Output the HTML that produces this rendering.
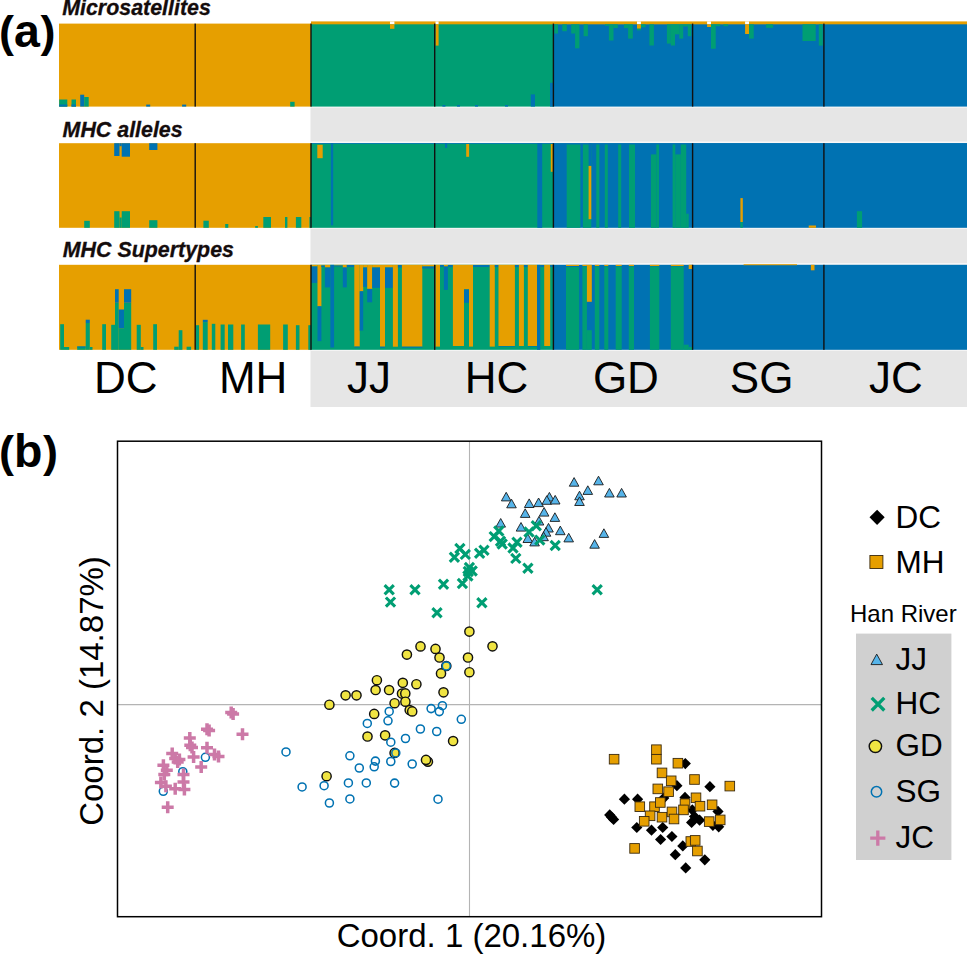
<!DOCTYPE html>
<html><head><meta charset="utf-8"><title>Figure</title>
<style>html,body{margin:0;padding:0;background:#fff;}svg{display:block;}</style></head>
<body><svg width="967" height="954" viewBox="0 0 967 954" shape-rendering="auto">
<rect width="967" height="954" fill="#fff"/>
<rect x="310.5" y="107.5" width="656.5" height="299.5" fill="#E6E6E6"/>
<rect x="310.5" y="141.5" width="656.5" height="1.7" fill="#F8F8F8"/>
<rect x="310.5" y="263.1" width="656.5" height="1.7" fill="#F8F8F8"/>
<rect x="310.5" y="227.8" width="656.5" height="1.2" fill="#F4F4F4"/>
<rect x="310.5" y="349.8" width="656.5" height="1.2" fill="#F4F4F4"/>
<rect x="59.0" y="23.6" width="252.0" height="83.0" fill="#E69F00"/>
<rect x="311.0" y="23.6" width="242.4" height="83.0" fill="#009E73"/>
<rect x="553.4" y="23.6" width="413.6" height="83.0" fill="#0072B2"/>
<rect x="311.0" y="21.4" width="656.0" height="2.9" fill="#E69F00"/>
<rect x="59.2" y="99.5" width="8.1" height="7.1" fill="#009E73"/>
<rect x="59.2" y="104.5" width="8.1" height="2.1" fill="#0072B2"/>
<rect x="71.5" y="99.5" width="4.5" height="7.1" fill="#009E73"/>
<rect x="71.5" y="104.5" width="4.5" height="2.1" fill="#0072B2"/>
<rect x="80.2" y="94.7" width="4.0" height="11.9" fill="#0072B2"/>
<rect x="84.2" y="97.0" width="4.5" height="9.6" fill="#009E73"/>
<rect x="146.2" y="104.6" width="4.0" height="2.0" fill="#0072B2"/>
<rect x="182.1" y="104.6" width="4.1" height="2.0" fill="#0072B2"/>
<rect x="290.2" y="101.8" width="4.4" height="4.8" fill="#009E73"/>
<rect x="390.0" y="21.4" width="4.4" height="2.9" fill="#ffffff"/>
<rect x="390.0" y="24.3" width="4.4" height="4.5" fill="#E69F00"/>
<rect x="435.5" y="21.4" width="3.1" height="2.9" fill="#ffffff"/>
<rect x="435.5" y="24.3" width="3.1" height="21.3" fill="#E69F00"/>
<rect x="530.8" y="94.4" width="4.2" height="12.2" fill="#0072B2"/>
<rect x="550.0" y="82.8" width="3.4" height="23.8" fill="#0072B2"/>
<rect x="442.4" y="105.0" width="3.0" height="1.6" fill="#0072B2"/>
<rect x="457.0" y="105.0" width="3.0" height="1.6" fill="#0072B2"/>
<rect x="475.0" y="105.0" width="3.0" height="1.6" fill="#0072B2"/>
<rect x="505.0" y="105.0" width="3.0" height="1.6" fill="#0072B2"/>
<rect x="554.2" y="24.3" width="3.8" height="9.2" fill="#009E73"/>
<rect x="562.3" y="24.3" width="4.5" height="6.9" fill="#009E73"/>
<rect x="571.2" y="24.3" width="3.9" height="9.2" fill="#009E73"/>
<rect x="575.1" y="24.3" width="4.3" height="24.0" fill="#009E73"/>
<rect x="583.6" y="24.3" width="4.3" height="11.9" fill="#009E73"/>
<rect x="605.0" y="24.3" width="3.9" height="1.5" fill="#009E73"/>
<rect x="608.9" y="24.3" width="4.6" height="16.2" fill="#009E73"/>
<rect x="613.5" y="24.3" width="4.3" height="3.7" fill="#009E73"/>
<rect x="624.0" y="24.3" width="4.1" height="3.8" fill="#009E73"/>
<rect x="628.1" y="24.3" width="4.7" height="14.3" fill="#009E73"/>
<rect x="637.0" y="24.3" width="3.9" height="6.1" fill="#009E73"/>
<rect x="640.9" y="24.3" width="4.7" height="3.0" fill="#009E73"/>
<rect x="649.4" y="24.3" width="4.5" height="21.2" fill="#009E73"/>
<rect x="666.9" y="24.3" width="3.9" height="19.3" fill="#009E73"/>
<rect x="670.8" y="24.3" width="4.2" height="21.2" fill="#009E73"/>
<rect x="675.0" y="24.3" width="4.3" height="10.0" fill="#009E73"/>
<rect x="679.3" y="24.3" width="3.9" height="14.3" fill="#009E73"/>
<rect x="683.2" y="24.3" width="4.6" height="2.2" fill="#009E73"/>
<rect x="687.8" y="24.3" width="3.5" height="11.9" fill="#009E73"/>
<rect x="637.0" y="21.4" width="3.9" height="2.9" fill="#ffffff"/>
<rect x="637.0" y="24.3" width="3.9" height="4.2" fill="#E69F00"/>
<rect x="711.0" y="24.3" width="4.7" height="24.4" fill="#009E73"/>
<rect x="715.7" y="24.3" width="4.6" height="1.9" fill="#009E73"/>
<rect x="723.4" y="24.3" width="4.7" height="1.9" fill="#009E73"/>
<rect x="749.0" y="24.3" width="4.7" height="14.3" fill="#009E73"/>
<rect x="766.1" y="24.3" width="7.0" height="3.5" fill="#009E73"/>
<rect x="802.5" y="24.3" width="13.2" height="16.7" fill="#009E73"/>
<rect x="818.8" y="24.3" width="3.9" height="21.3" fill="#009E73"/>
<rect x="707.1" y="21.4" width="3.9" height="2.9" fill="#ffffff"/>
<rect x="707.1" y="24.3" width="3.9" height="2.7" fill="#E69F00"/>
<rect x="745.1" y="21.4" width="3.9" height="2.9" fill="#ffffff"/>
<rect x="745.1" y="24.3" width="3.9" height="9.7" fill="#E69F00"/>
<rect x="59.0" y="143.2" width="252.0" height="84.6" fill="#E69F00"/>
<rect x="311.0" y="143.2" width="242.4" height="84.6" fill="#009E73"/>
<rect x="553.4" y="143.2" width="413.6" height="84.6" fill="#0072B2"/>
<rect x="114.2" y="143.2" width="5.3" height="12.8" fill="#0072B2"/>
<rect x="119.5" y="143.2" width="2.2" height="3.0" fill="#0072B2"/>
<rect x="121.7" y="143.2" width="8.3" height="13.5" fill="#0072B2"/>
<rect x="149.2" y="143.2" width="8.2" height="6.8" fill="#0072B2"/>
<rect x="84.2" y="220.8" width="5.6" height="7.0" fill="#009E73"/>
<rect x="114.2" y="211.2" width="5.3" height="16.6" fill="#009E73"/>
<rect x="119.5" y="217.5" width="2.2" height="10.3" fill="#009E73"/>
<rect x="121.7" y="211.2" width="8.3" height="16.6" fill="#009E73"/>
<rect x="149.2" y="220.2" width="8.2" height="7.6" fill="#009E73"/>
<rect x="203.4" y="220.7" width="5.4" height="7.1" fill="#009E73"/>
<rect x="225.2" y="224.0" width="3.1" height="3.8" fill="#009E73"/>
<rect x="255.2" y="226.0" width="2.7" height="1.8" fill="#009E73"/>
<rect x="263.3" y="217.0" width="7.7" height="10.8" fill="#009E73"/>
<rect x="285.0" y="217.0" width="2.4" height="10.8" fill="#009E73"/>
<rect x="295.9" y="217.0" width="5.4" height="10.8" fill="#009E73"/>
<rect x="309.4" y="217.0" width="1.6" height="10.8" fill="#009E73"/>
<rect x="311.0" y="143.2" width="656.0" height="0.8" fill="#0072B2"/>
<rect x="317.3" y="144.8" width="5.4" height="13.4" fill="#E69F00"/>
<rect x="330.9" y="143.2" width="2.3" height="82.1" fill="#0072B2"/>
<rect x="445.0" y="143.2" width="2.2" height="4.7" fill="#0072B2"/>
<rect x="466.2" y="144.0" width="2.9" height="12.8" fill="#E69F00"/>
<rect x="537.3" y="143.2" width="4.9" height="84.6" fill="#0072B2"/>
<rect x="550.8" y="144.0" width="2.0" height="27.8" fill="#E69F00"/>
<rect x="566.7" y="144.5" width="13.7" height="83.3" fill="#009E73"/>
<rect x="582.9" y="144.5" width="8.4" height="83.3" fill="#009E73"/>
<rect x="596.3" y="144.5" width="3.0" height="83.3" fill="#009E73"/>
<rect x="604.8" y="144.5" width="3.0" height="83.3" fill="#009E73"/>
<rect x="618.2" y="144.5" width="3.0" height="83.3" fill="#009E73"/>
<rect x="629.0" y="144.5" width="6.0" height="83.3" fill="#009E73"/>
<rect x="650.9" y="154.4" width="5.5" height="73.4" fill="#009E73"/>
<rect x="656.4" y="144.5" width="2.6" height="83.3" fill="#009E73"/>
<rect x="672.6" y="144.5" width="2.7" height="83.3" fill="#009E73"/>
<rect x="675.3" y="154.4" width="5.5" height="73.4" fill="#009E73"/>
<rect x="680.8" y="144.5" width="5.4" height="83.3" fill="#009E73"/>
<rect x="686.2" y="213.7" width="2.5" height="14.1" fill="#009E73"/>
<rect x="588.6" y="143.2" width="2.7" height="22.7" fill="#0072B2"/>
<rect x="588.6" y="165.9" width="2.7" height="53.3" fill="#E69F00"/>
<rect x="740.4" y="198.1" width="2.4" height="23.9" fill="#E69F00"/>
<rect x="740.4" y="222.0" width="2.4" height="5.8" fill="#009E73"/>
<rect x="808.7" y="225.5" width="7.3" height="2.3" fill="#E69F00"/>
<rect x="856.9" y="211.2" width="5.2" height="16.6" fill="#009E73"/>
<rect x="59.0" y="264.8" width="252.0" height="85.0" fill="#E69F00"/>
<rect x="311.0" y="264.8" width="242.4" height="85.0" fill="#009E73"/>
<rect x="553.4" y="264.8" width="413.6" height="85.0" fill="#0072B2"/>
<rect x="60.2" y="324.2" width="3.8" height="25.6" fill="#009E73"/>
<rect x="64.0" y="347.0" width="5.2" height="2.8" fill="#009E73"/>
<rect x="77.2" y="346.5" width="8.5" height="3.3" fill="#009E73"/>
<rect x="85.7" y="323.0" width="4.1" height="26.8" fill="#009E73"/>
<rect x="89.8" y="347.0" width="2.7" height="2.8" fill="#009E73"/>
<rect x="102.2" y="324.2" width="3.8" height="25.6" fill="#009E73"/>
<rect x="111.2" y="324.8" width="3.8" height="25.0" fill="#009E73"/>
<rect x="115.0" y="302.7" width="3.7" height="47.1" fill="#009E73"/>
<rect x="118.7" y="328.2" width="5.3" height="21.6" fill="#009E73"/>
<rect x="124.0" y="302.7" width="7.2" height="47.1" fill="#009E73"/>
<rect x="136.7" y="324.8" width="4.1" height="25.0" fill="#009E73"/>
<rect x="140.8" y="347.0" width="2.7" height="2.8" fill="#009E73"/>
<rect x="153.2" y="324.2" width="3.8" height="25.6" fill="#009E73"/>
<rect x="174.2" y="346.7" width="4.5" height="3.1" fill="#009E73"/>
<rect x="178.7" y="330.2" width="3.7" height="19.6" fill="#009E73"/>
<rect x="186.6" y="346.7" width="4.5" height="3.1" fill="#009E73"/>
<rect x="85.7" y="319.7" width="4.1" height="3.3" fill="#0072B2"/>
<rect x="77.2" y="346.5" width="8.5" height="1.0" fill="#0072B2"/>
<rect x="115.0" y="289.2" width="3.7" height="13.5" fill="#0072B2"/>
<rect x="124.0" y="289.2" width="7.2" height="13.5" fill="#0072B2"/>
<rect x="118.7" y="309.5" width="5.3" height="18.7" fill="#0072B2"/>
<rect x="196.0" y="325.2" width="3.1" height="24.6" fill="#009E73"/>
<rect x="202.8" y="322.1" width="4.9" height="27.7" fill="#009E73"/>
<rect x="211.8" y="323.8" width="3.5" height="26.0" fill="#009E73"/>
<rect x="220.6" y="324.5" width="4.1" height="25.3" fill="#009E73"/>
<rect x="228.0" y="324.5" width="5.3" height="25.3" fill="#009E73"/>
<rect x="241.1" y="324.5" width="3.7" height="25.3" fill="#009E73"/>
<rect x="257.9" y="324.5" width="12.3" height="25.3" fill="#009E73"/>
<rect x="283.1" y="324.5" width="4.7" height="25.3" fill="#009E73"/>
<rect x="295.9" y="325.2" width="3.6" height="24.6" fill="#009E73"/>
<rect x="308.3" y="325.2" width="2.7" height="24.6" fill="#009E73"/>
<rect x="202.8" y="319.8" width="4.9" height="2.3" fill="#0072B2"/>
<rect x="311.2" y="264.8" width="6.3" height="1.7" fill="#E69F00"/>
<rect x="311.2" y="266.5" width="6.3" height="16.4" fill="#0072B2"/>
<rect x="317.5" y="264.8" width="3.9" height="41.5" fill="#E69F00"/>
<rect x="317.5" y="306.3" width="3.9" height="34.8" fill="#0072B2"/>
<rect x="321.4" y="264.8" width="3.5" height="0.7" fill="#E69F00"/>
<rect x="321.4" y="265.5" width="3.5" height="1.5" fill="#0072B2"/>
<rect x="324.9" y="264.8" width="5.5" height="2.7" fill="#E69F00"/>
<rect x="324.9" y="267.5" width="5.5" height="19.9" fill="#0072B2"/>
<rect x="330.4" y="264.8" width="3.7" height="82.7" fill="#0072B2"/>
<rect x="334.1" y="264.8" width="8.7" height="0.7" fill="#E69F00"/>
<rect x="334.1" y="265.5" width="8.7" height="1.0" fill="#0072B2"/>
<rect x="342.8" y="264.8" width="4.0" height="2.7" fill="#E69F00"/>
<rect x="342.8" y="267.5" width="4.0" height="19.9" fill="#0072B2"/>
<rect x="346.8" y="264.8" width="7.5" height="0.2" fill="#E69F00"/>
<rect x="346.8" y="265.0" width="7.5" height="2.0" fill="#0072B2"/>
<rect x="354.3" y="264.8" width="5.4" height="81.8" fill="#E69F00"/>
<rect x="354.3" y="346.6" width="5.4" height="0.9" fill="#0072B2"/>
<rect x="359.7" y="264.8" width="3.5" height="26.5" fill="#E69F00"/>
<rect x="359.7" y="291.3" width="3.5" height="39.3" fill="#0072B2"/>
<rect x="363.2" y="264.8" width="4.0" height="2.7" fill="#E69F00"/>
<rect x="363.2" y="267.5" width="4.0" height="19.4" fill="#0072B2"/>
<rect x="367.2" y="264.8" width="5.0" height="24.1" fill="#E69F00"/>
<rect x="367.2" y="288.9" width="5.0" height="13.4" fill="#0072B2"/>
<rect x="372.2" y="264.8" width="7.8" height="2.7" fill="#E69F00"/>
<rect x="372.2" y="267.5" width="7.8" height="20.4" fill="#0072B2"/>
<rect x="380.0" y="264.8" width="5.0" height="81.9" fill="#E69F00"/>
<rect x="380.0" y="346.7" width="5.0" height="1.0" fill="#0072B2"/>
<rect x="385.0" y="264.8" width="7.9" height="2.7" fill="#E69F00"/>
<rect x="385.0" y="267.5" width="7.9" height="20.4" fill="#0072B2"/>
<rect x="392.9" y="264.8" width="5.0" height="81.9" fill="#E69F00"/>
<rect x="397.9" y="264.8" width="4.0" height="0.2" fill="#E69F00"/>
<rect x="397.9" y="265.0" width="4.0" height="2.5" fill="#0072B2"/>
<rect x="401.9" y="264.8" width="20.4" height="81.9" fill="#E69F00"/>
<rect x="401.9" y="346.7" width="20.4" height="1.0" fill="#0072B2"/>
<rect x="422.3" y="264.8" width="12.2" height="1.7" fill="#E69F00"/>
<rect x="422.3" y="266.5" width="12.2" height="2.0" fill="#0072B2"/>
<rect x="435.5" y="264.8" width="4.5" height="81.8" fill="#E69F00"/>
<rect x="440.0" y="264.8" width="3.9" height="0.2" fill="#E69F00"/>
<rect x="440.0" y="265.0" width="3.9" height="2.0" fill="#0072B2"/>
<rect x="443.9" y="264.8" width="4.0" height="1.7" fill="#E69F00"/>
<rect x="443.9" y="266.5" width="4.0" height="23.4" fill="#0072B2"/>
<rect x="447.9" y="264.8" width="5.0" height="0.2" fill="#E69F00"/>
<rect x="447.9" y="265.0" width="5.0" height="2.0" fill="#0072B2"/>
<rect x="452.9" y="264.8" width="11.1" height="81.2" fill="#E69F00"/>
<rect x="464.0" y="264.8" width="5.0" height="24.6" fill="#E69F00"/>
<rect x="464.0" y="289.4" width="5.0" height="13.4" fill="#0072B2"/>
<rect x="469.0" y="264.8" width="4.0" height="81.8" fill="#E69F00"/>
<rect x="473.0" y="264.8" width="16.7" height="0.2" fill="#E69F00"/>
<rect x="473.0" y="265.0" width="16.7" height="2.0" fill="#0072B2"/>
<rect x="489.7" y="264.8" width="5.1" height="81.8" fill="#E69F00"/>
<rect x="494.8" y="264.8" width="3.7" height="0.2" fill="#E69F00"/>
<rect x="494.8" y="265.0" width="3.7" height="2.0" fill="#0072B2"/>
<rect x="498.5" y="264.8" width="16.4" height="81.2" fill="#E69F00"/>
<rect x="498.5" y="346.0" width="16.4" height="0.6" fill="#0072B2"/>
<rect x="514.9" y="264.8" width="4.0" height="0.2" fill="#E69F00"/>
<rect x="514.9" y="265.0" width="4.0" height="2.0" fill="#0072B2"/>
<rect x="518.9" y="264.8" width="5.0" height="81.2" fill="#E69F00"/>
<rect x="523.9" y="264.8" width="3.9" height="0.2" fill="#E69F00"/>
<rect x="523.9" y="265.0" width="3.9" height="2.0" fill="#0072B2"/>
<rect x="527.8" y="264.8" width="9.2" height="81.2" fill="#E69F00"/>
<rect x="527.8" y="346.0" width="9.2" height="0.6" fill="#0072B2"/>
<rect x="537.0" y="264.8" width="3.3" height="85.0" fill="#0072B2"/>
<rect x="540.3" y="264.8" width="3.9" height="0.2" fill="#E69F00"/>
<rect x="540.3" y="265.0" width="3.9" height="2.0" fill="#0072B2"/>
<rect x="544.2" y="264.8" width="6.0" height="81.2" fill="#E69F00"/>
<rect x="550.2" y="264.8" width="3.2" height="0.2" fill="#E69F00"/>
<rect x="550.2" y="265.0" width="3.2" height="2.0" fill="#0072B2"/>
<rect x="566.0" y="267.0" width="13.1" height="82.8" fill="#009E73"/>
<rect x="582.4" y="266.5" width="4.5" height="83.3" fill="#009E73"/>
<rect x="594.8" y="266.5" width="4.5" height="83.3" fill="#009E73"/>
<rect x="604.3" y="266.5" width="4.0" height="83.3" fill="#009E73"/>
<rect x="615.7" y="266.5" width="6.0" height="83.3" fill="#009E73"/>
<rect x="628.8" y="266.5" width="5.2" height="83.3" fill="#009E73"/>
<rect x="649.9" y="266.5" width="9.4" height="83.3" fill="#009E73"/>
<rect x="670.8" y="266.5" width="12.9" height="83.3" fill="#009E73"/>
<rect x="566.0" y="264.8" width="13.1" height="1.2" fill="#E69F00"/>
<rect x="582.4" y="264.8" width="4.5" height="1.2" fill="#E69F00"/>
<rect x="594.8" y="264.8" width="4.5" height="1.2" fill="#E69F00"/>
<rect x="604.3" y="264.8" width="4.0" height="1.2" fill="#E69F00"/>
<rect x="615.7" y="264.8" width="6.0" height="1.2" fill="#E69F00"/>
<rect x="628.8" y="264.8" width="5.2" height="1.2" fill="#E69F00"/>
<rect x="649.9" y="264.8" width="9.4" height="1.2" fill="#E69F00"/>
<rect x="670.8" y="264.8" width="12.9" height="1.2" fill="#E69F00"/>
<rect x="586.9" y="264.8" width="4.9" height="37.0" fill="#E69F00"/>
<rect x="586.9" y="330.2" width="4.9" height="19.6" fill="#009E73"/>
<rect x="683.7" y="344.7" width="5.0" height="5.1" fill="#009E73"/>
<rect x="688.7" y="264.8" width="4.0" height="4.2" fill="#E69F00"/>
<rect x="688.7" y="347.0" width="4.0" height="2.8" fill="#009E73"/>
<rect x="810.9" y="264.8" width="3.6" height="5.5" fill="#E69F00"/>
<rect x="743.6" y="264.2" width="53.4" height="1.0" fill="#E69F00"/>
<rect x="194.5" y="23.6" width="1.4" height="83.0" fill="#111"/>
<rect x="194.5" y="143.2" width="1.4" height="84.6" fill="#111"/>
<rect x="194.5" y="264.8" width="1.4" height="85.0" fill="#111"/>
<rect x="310.3" y="23.6" width="1.4" height="83.0" fill="#111"/>
<rect x="310.3" y="143.2" width="1.4" height="84.6" fill="#111"/>
<rect x="310.3" y="264.8" width="1.4" height="85.0" fill="#111"/>
<rect x="434.0" y="23.6" width="1.4" height="83.0" fill="#111"/>
<rect x="434.0" y="143.2" width="1.4" height="84.6" fill="#111"/>
<rect x="434.0" y="264.8" width="1.4" height="85.0" fill="#111"/>
<rect x="552.7" y="23.6" width="1.4" height="83.0" fill="#111"/>
<rect x="552.7" y="143.2" width="1.4" height="84.6" fill="#111"/>
<rect x="552.7" y="264.8" width="1.4" height="85.0" fill="#111"/>
<rect x="691.9" y="23.6" width="1.4" height="83.0" fill="#111"/>
<rect x="691.9" y="143.2" width="1.4" height="84.6" fill="#111"/>
<rect x="691.9" y="264.8" width="1.4" height="85.0" fill="#111"/>
<rect x="823.2" y="23.6" width="1.4" height="83.0" fill="#111"/>
<rect x="823.2" y="143.2" width="1.4" height="84.6" fill="#111"/>
<rect x="823.2" y="264.8" width="1.4" height="85.0" fill="#111"/>
<text x="-1.0" y="47.4" font-family="Liberation Sans" font-size="46.5" font-weight="bold" font-style="normal" text-anchor="start" fill="#000" ><tspan font-size="45" dy="-0.3">(</tspan><tspan dy="0.3">a</tspan><tspan font-size="45" dy="-0.3" dx="0.6">)</tspan></text>
<text x="62.2" y="15.4" font-family="Liberation Sans" font-size="21.4" font-weight="bold" font-style="italic" text-anchor="start" fill="#140c0c" stroke="#140c0c" stroke-width="0.3">Microsatellites</text>
<text x="62.6" y="137.1" font-family="Liberation Sans" font-size="21.4" font-weight="bold" font-style="italic" text-anchor="start" fill="#140c0c" stroke="#140c0c" stroke-width="0.3">MHC alleles</text>
<text x="62.8" y="257.3" font-family="Liberation Sans" font-size="21.4" font-weight="bold" font-style="italic" text-anchor="start" fill="#140c0c" stroke="#140c0c" stroke-width="0.3">MHC Supertypes</text>
<text x="125.8" y="392.8" font-family="Liberation Sans" font-size="44" font-weight="normal" font-style="normal" text-anchor="middle" fill="#000" >DC</text>
<text x="253.2" y="392.8" font-family="Liberation Sans" font-size="44" font-weight="normal" font-style="normal" text-anchor="middle" fill="#000" >MH</text>
<text x="369.0" y="392.8" font-family="Liberation Sans" font-size="44" font-weight="normal" font-style="normal" text-anchor="middle" fill="#000" >JJ</text>
<text x="496.6" y="392.8" font-family="Liberation Sans" font-size="44" font-weight="normal" font-style="normal" text-anchor="middle" fill="#000" >HC</text>
<text x="625.9" y="392.8" font-family="Liberation Sans" font-size="44" font-weight="normal" font-style="normal" text-anchor="middle" fill="#000" >GD</text>
<text x="761.6" y="392.8" font-family="Liberation Sans" font-size="44" font-weight="normal" font-style="normal" text-anchor="middle" fill="#000" >SG</text>
<text x="896.0" y="392.8" font-family="Liberation Sans" font-size="44" font-weight="normal" font-style="normal" text-anchor="middle" fill="#000" >JC</text>
<text x="-0.9" y="467.1" font-family="Liberation Sans" font-size="46.5" font-weight="bold" font-style="normal" text-anchor="start" fill="#000" ><tspan font-size="45" dy="-0.3">(</tspan><tspan dy="0.3">b</tspan><tspan font-size="45" dy="-0.3" dx="0.6">)</tspan></text>
<line x1="469.5" y1="441.2" x2="469.5" y2="916.7" stroke="#b4b4b4" stroke-width="1.1"/>
<line x1="117.5" y1="704.6" x2="821.5" y2="704.6" stroke="#b4b4b4" stroke-width="1.1"/>
<rect x="117.5" y="441.2" width="704.0" height="475.50000000000006" fill="none" stroke="#000" stroke-width="1.5"/>
<text x="471.5" y="946.5" font-family="Liberation Sans" font-size="33" font-weight="normal" font-style="normal" text-anchor="middle" fill="#000" >Coord. 1 (20.16%)</text>
<text x="0" y="0" font-family="Liberation Sans" font-size="33" text-anchor="middle" transform="translate(102.5,691) rotate(-90)">Coord. 2 (14.87%)</text>
<path d="M609.7 809.3L615.3 814.9L609.7 820.5L604.1 814.9Z" fill="#000"/>
<path d="M613.6 813.9L619.2 819.5L613.6 825.1L608.0 819.5Z" fill="#000"/>
<path d="M624.4 793.6L630.0 799.2L624.4 804.8L618.8 799.2Z" fill="#000"/>
<path d="M637.6 793.6L643.2 799.2L637.6 804.8L632.0 799.2Z" fill="#000"/>
<path d="M611.6 811.6L617.2 817.2L611.6 822.8L606.0 817.2Z" fill="#000"/>
<path d="M636.8 821.9L642.4 827.5L636.8 833.1L631.2 827.5Z" fill="#000"/>
<path d="M651.5 824.6L657.1 830.2L651.5 835.8L645.9 830.2Z" fill="#000"/>
<path d="M662.7 821.9L668.3 827.5L662.7 833.1L657.1 827.5Z" fill="#000"/>
<path d="M660.6 833.9L666.2 839.5L660.6 845.1L655.0 839.5Z" fill="#000"/>
<path d="M671.9 830.9L677.5 836.5L671.9 842.1L666.3 836.5Z" fill="#000"/>
<path d="M675.3 849.1L680.9 854.7L675.3 860.3L669.7 854.7Z" fill="#000"/>
<path d="M663.8 792.5L669.4 798.1L663.8 803.7L658.2 798.1Z" fill="#000"/>
<path d="M685.3 758.0L690.9 763.6L685.3 769.2L679.7 763.6Z" fill="#000"/>
<path d="M709.9 781.1L715.5 786.7L709.9 792.3L704.3 786.7Z" fill="#000"/>
<path d="M676.9 780.1L682.5 785.7L676.9 791.3L671.3 785.7Z" fill="#000"/>
<path d="M685.0 791.8L690.6 797.4L685.0 803.0L679.4 797.4Z" fill="#000"/>
<path d="M692.3 804.3L697.9 809.9L692.3 815.5L686.7 809.9Z" fill="#000"/>
<path d="M694.5 810.9L700.1 816.5L694.5 822.1L688.9 816.5Z" fill="#000"/>
<path d="M691.6 816.8L697.2 822.4L691.6 828.0L686.0 822.4Z" fill="#000"/>
<path d="M699.6 814.6L705.2 820.2L699.6 825.8L694.0 820.2Z" fill="#000"/>
<path d="M718.0 805.8L723.6 811.4L718.0 817.0L712.4 811.4Z" fill="#000"/>
<path d="M712.9 819.7L718.5 825.3L712.9 830.9L707.3 825.3Z" fill="#000"/>
<path d="M718.7 821.2L724.3 826.8L718.7 832.4L713.1 826.8Z" fill="#000"/>
<path d="M682.8 840.3L688.4 845.9L682.8 851.5L677.2 845.9Z" fill="#000"/>
<path d="M685.7 862.3L691.3 867.9L685.7 873.5L680.1 867.9Z" fill="#000"/>
<path d="M704.8 854.2L710.4 859.8L704.8 865.4L699.2 859.8Z" fill="#000"/>
<rect x="609.3" y="754.4" width="9.6" height="9.6" fill="#E69F00" stroke="#3a2a10" stroke-width="0.9"/>
<rect x="651.6" y="744.9" width="9.6" height="9.6" fill="#E69F00" stroke="#3a2a10" stroke-width="0.9"/>
<rect x="651.6" y="754.4" width="9.6" height="9.6" fill="#E69F00" stroke="#3a2a10" stroke-width="0.9"/>
<rect x="657.2" y="768.1" width="9.6" height="9.6" fill="#E69F00" stroke="#3a2a10" stroke-width="0.9"/>
<rect x="666.4" y="776.0" width="9.6" height="9.6" fill="#E69F00" stroke="#3a2a10" stroke-width="0.9"/>
<rect x="653.0" y="784.1" width="9.6" height="9.6" fill="#E69F00" stroke="#3a2a10" stroke-width="0.9"/>
<rect x="663.8" y="786.9" width="9.6" height="9.6" fill="#E69F00" stroke="#3a2a10" stroke-width="0.9"/>
<rect x="635.0" y="801.9" width="9.6" height="9.6" fill="#E69F00" stroke="#3a2a10" stroke-width="0.9"/>
<rect x="649.7" y="801.9" width="9.6" height="9.6" fill="#E69F00" stroke="#3a2a10" stroke-width="0.9"/>
<rect x="655.5" y="797.7" width="9.6" height="9.6" fill="#E69F00" stroke="#3a2a10" stroke-width="0.9"/>
<rect x="645.3" y="811.0" width="9.6" height="9.6" fill="#E69F00" stroke="#3a2a10" stroke-width="0.9"/>
<rect x="657.2" y="812.4" width="9.6" height="9.6" fill="#E69F00" stroke="#3a2a10" stroke-width="0.9"/>
<rect x="639.4" y="816.5" width="9.6" height="9.6" fill="#E69F00" stroke="#3a2a10" stroke-width="0.9"/>
<rect x="629.8" y="843.6" width="9.6" height="9.6" fill="#E69F00" stroke="#3a2a10" stroke-width="0.9"/>
<rect x="667.2" y="807.1" width="9.6" height="9.6" fill="#E69F00" stroke="#3a2a10" stroke-width="0.9"/>
<rect x="673.1" y="758.4" width="9.6" height="9.6" fill="#E69F00" stroke="#3a2a10" stroke-width="0.9"/>
<rect x="689.7" y="774.7" width="9.6" height="9.6" fill="#E69F00" stroke="#3a2a10" stroke-width="0.9"/>
<rect x="725.0" y="781.3" width="9.6" height="9.6" fill="#E69F00" stroke="#3a2a10" stroke-width="0.9"/>
<rect x="691.2" y="793.0" width="9.6" height="9.6" fill="#E69F00" stroke="#3a2a10" stroke-width="0.9"/>
<rect x="680.2" y="798.9" width="9.6" height="9.6" fill="#E69F00" stroke="#3a2a10" stroke-width="0.9"/>
<rect x="695.2" y="801.4" width="9.6" height="9.6" fill="#E69F00" stroke="#3a2a10" stroke-width="0.9"/>
<rect x="707.3" y="800.0" width="9.6" height="9.6" fill="#E69F00" stroke="#3a2a10" stroke-width="0.9"/>
<rect x="678.7" y="805.1" width="9.6" height="9.6" fill="#E69F00" stroke="#3a2a10" stroke-width="0.9"/>
<rect x="669.2" y="814.2" width="9.6" height="9.6" fill="#E69F00" stroke="#3a2a10" stroke-width="0.9"/>
<rect x="704.4" y="816.8" width="9.6" height="9.6" fill="#E69F00" stroke="#3a2a10" stroke-width="0.9"/>
<rect x="715.4" y="815.1" width="9.6" height="9.6" fill="#E69F00" stroke="#3a2a10" stroke-width="0.9"/>
<rect x="686.0" y="836.7" width="9.6" height="9.6" fill="#E69F00" stroke="#3a2a10" stroke-width="0.9"/>
<rect x="690.4" y="835.6" width="9.6" height="9.6" fill="#E69F00" stroke="#3a2a10" stroke-width="0.9"/>
<rect x="692.6" y="846.2" width="9.6" height="9.6" fill="#E69F00" stroke="#3a2a10" stroke-width="0.9"/>
<path d="M506.2 492.3L511.0 500.9L501.4 500.9Z" fill="#56B4E9" stroke="#1a1a1a" stroke-width="0.9" stroke-linejoin="miter"/>
<path d="M511.5 499.2L516.3 507.8L506.7 507.8Z" fill="#56B4E9" stroke="#1a1a1a" stroke-width="0.9" stroke-linejoin="miter"/>
<path d="M529.2 498.9L534.0 507.5L524.4 507.5Z" fill="#56B4E9" stroke="#1a1a1a" stroke-width="0.9" stroke-linejoin="miter"/>
<path d="M538.6 498.0L543.4 506.6L533.8 506.6Z" fill="#56B4E9" stroke="#1a1a1a" stroke-width="0.9" stroke-linejoin="miter"/>
<path d="M549.4 492.4L554.2 501.0L544.6 501.0Z" fill="#56B4E9" stroke="#1a1a1a" stroke-width="0.9" stroke-linejoin="miter"/>
<path d="M546.8 495.7L551.6 504.3L542.0 504.3Z" fill="#56B4E9" stroke="#1a1a1a" stroke-width="0.9" stroke-linejoin="miter"/>
<path d="M555.2 495.4L560.0 504.0L550.4 504.0Z" fill="#56B4E9" stroke="#1a1a1a" stroke-width="0.9" stroke-linejoin="miter"/>
<path d="M525.2 508.8L530.0 517.4L520.4 517.4Z" fill="#56B4E9" stroke="#1a1a1a" stroke-width="0.9" stroke-linejoin="miter"/>
<path d="M544.1 507.5L548.9 516.1L539.3 516.1Z" fill="#56B4E9" stroke="#1a1a1a" stroke-width="0.9" stroke-linejoin="miter"/>
<path d="M554.9 512.8L559.7 521.4L550.1 521.4Z" fill="#56B4E9" stroke="#1a1a1a" stroke-width="0.9" stroke-linejoin="miter"/>
<path d="M500.7 518.5L505.5 527.1L495.9 527.1Z" fill="#56B4E9" stroke="#1a1a1a" stroke-width="0.9" stroke-linejoin="miter"/>
<path d="M539.0 516.4L543.8 525.0L534.2 525.0Z" fill="#56B4E9" stroke="#1a1a1a" stroke-width="0.9" stroke-linejoin="miter"/>
<path d="M521.0 522.5L525.8 531.1L516.2 531.1Z" fill="#56B4E9" stroke="#1a1a1a" stroke-width="0.9" stroke-linejoin="miter"/>
<path d="M548.5 523.4L553.3 532.0L543.7 532.0Z" fill="#56B4E9" stroke="#1a1a1a" stroke-width="0.9" stroke-linejoin="miter"/>
<path d="M546.0 527.6L550.8 536.2L541.2 536.2Z" fill="#56B4E9" stroke="#1a1a1a" stroke-width="0.9" stroke-linejoin="miter"/>
<path d="M560.3 526.1L565.1 534.7L555.5 534.7Z" fill="#56B4E9" stroke="#1a1a1a" stroke-width="0.9" stroke-linejoin="miter"/>
<path d="M527.8 533.9L532.6 542.5L523.0 542.5Z" fill="#56B4E9" stroke="#1a1a1a" stroke-width="0.9" stroke-linejoin="miter"/>
<path d="M534.6 537.3L539.4 545.9L529.8 545.9Z" fill="#56B4E9" stroke="#1a1a1a" stroke-width="0.9" stroke-linejoin="miter"/>
<path d="M543.6 532.1L548.4 540.7L538.8 540.7Z" fill="#56B4E9" stroke="#1a1a1a" stroke-width="0.9" stroke-linejoin="miter"/>
<path d="M574.1 477.6L578.9 486.2L569.3 486.2Z" fill="#56B4E9" stroke="#1a1a1a" stroke-width="0.9" stroke-linejoin="miter"/>
<path d="M598.5 476.2L603.3 484.8L593.7 484.8Z" fill="#56B4E9" stroke="#1a1a1a" stroke-width="0.9" stroke-linejoin="miter"/>
<path d="M587.8 485.8L592.6 494.4L583.0 494.4Z" fill="#56B4E9" stroke="#1a1a1a" stroke-width="0.9" stroke-linejoin="miter"/>
<path d="M609.4 488.4L614.2 497.0L604.6 497.0Z" fill="#56B4E9" stroke="#1a1a1a" stroke-width="0.9" stroke-linejoin="miter"/>
<path d="M621.6 488.4L626.4 497.0L616.8 497.0Z" fill="#56B4E9" stroke="#1a1a1a" stroke-width="0.9" stroke-linejoin="miter"/>
<path d="M579.5 491.2L584.3 499.8L574.7 499.8Z" fill="#56B4E9" stroke="#1a1a1a" stroke-width="0.9" stroke-linejoin="miter"/>
<path d="M579.5 496.9L584.3 505.5L574.7 505.5Z" fill="#56B4E9" stroke="#1a1a1a" stroke-width="0.9" stroke-linejoin="miter"/>
<path d="M568.7 533.3L573.5 541.9L563.9 541.9Z" fill="#56B4E9" stroke="#1a1a1a" stroke-width="0.9" stroke-linejoin="miter"/>
<path d="M603.9 528.8L608.7 537.4L599.1 537.4Z" fill="#56B4E9" stroke="#1a1a1a" stroke-width="0.9" stroke-linejoin="miter"/>
<path d="M594.6 539.6L599.4 548.2L589.8 548.2Z" fill="#56B4E9" stroke="#1a1a1a" stroke-width="0.9" stroke-linejoin="miter"/>
<path d="M384.6 585.1L393.8 594.3M393.8 585.1L384.6 594.3" stroke="#009E73" stroke-width="3.1" fill="none"/>
<path d="M385.9 597.5L395.1 606.7M395.1 597.5L385.9 606.7" stroke="#009E73" stroke-width="3.1" fill="none"/>
<path d="M410.4 585.2L419.6 594.4M419.6 585.2L410.4 594.4" stroke="#009E73" stroke-width="3.1" fill="none"/>
<path d="M432.4 608.2L441.6 617.4M441.6 608.2L432.4 617.4" stroke="#009E73" stroke-width="3.1" fill="none"/>
<path d="M438.9 579.7L448.1 588.9M448.1 579.7L438.9 588.9" stroke="#009E73" stroke-width="3.1" fill="none"/>
<path d="M457.8 578.9L467.0 588.1M467.0 578.9L457.8 588.1" stroke="#009E73" stroke-width="3.1" fill="none"/>
<path d="M455.3 543.9L464.5 553.1M464.5 543.9L455.3 553.1" stroke="#009E73" stroke-width="3.1" fill="none"/>
<path d="M449.8 552.7L459.0 561.9M459.0 552.7L449.8 561.9" stroke="#009E73" stroke-width="3.1" fill="none"/>
<path d="M460.7 549.8L469.9 559.0M469.9 549.8L460.7 559.0" stroke="#009E73" stroke-width="3.1" fill="none"/>
<path d="M475.0 548.6L484.2 557.8M484.2 548.6L475.0 557.8" stroke="#009E73" stroke-width="3.1" fill="none"/>
<path d="M464.8 562.9L474.0 572.1M474.0 562.9L464.8 572.1" stroke="#009E73" stroke-width="3.1" fill="none"/>
<path d="M463.7 566.9L472.9 576.1M472.9 566.9L463.7 576.1" stroke="#009E73" stroke-width="3.1" fill="none"/>
<path d="M467.6 566.4L476.8 575.6M476.8 566.4L467.6 575.6" stroke="#009E73" stroke-width="3.1" fill="none"/>
<path d="M463.3 571.4L472.5 580.6M472.5 571.4L463.3 580.6" stroke="#009E73" stroke-width="3.1" fill="none"/>
<path d="M477.3 598.2L486.5 607.4M486.5 598.2L477.3 607.4" stroke="#009E73" stroke-width="3.1" fill="none"/>
<path d="M479.4 545.7L488.6 554.9M488.6 545.7L479.4 554.9" stroke="#009E73" stroke-width="3.1" fill="none"/>
<path d="M494.2 526.4L503.4 535.6M503.4 526.4L494.2 535.6" stroke="#009E73" stroke-width="3.1" fill="none"/>
<path d="M489.6 532.0L498.8 541.2M498.8 532.0L489.6 541.2" stroke="#009E73" stroke-width="3.1" fill="none"/>
<path d="M495.9 536.6L505.1 545.8M505.1 536.6L495.9 545.8" stroke="#009E73" stroke-width="3.1" fill="none"/>
<path d="M497.6 539.4L506.8 548.6M506.8 539.4L497.6 548.6" stroke="#009E73" stroke-width="3.1" fill="none"/>
<path d="M512.4 537.7L521.6 546.9M521.6 537.7L512.4 546.9" stroke="#009E73" stroke-width="3.1" fill="none"/>
<path d="M508.4 543.4L517.6 552.6M517.6 543.4L508.4 552.6" stroke="#009E73" stroke-width="3.1" fill="none"/>
<path d="M511.2 553.8L520.4 563.0M520.4 553.8L511.2 563.0" stroke="#009E73" stroke-width="3.1" fill="none"/>
<path d="M523.3 563.7L532.5 572.9M532.5 563.7L523.3 572.9" stroke="#009E73" stroke-width="3.1" fill="none"/>
<path d="M524.4 527.4L533.6 536.6M533.6 527.4L524.4 536.6" stroke="#009E73" stroke-width="3.1" fill="none"/>
<path d="M531.7 521.2L540.9 530.4M540.9 521.2L531.7 530.4" stroke="#009E73" stroke-width="3.1" fill="none"/>
<path d="M535.2 535.5L544.4 544.7M544.4 535.5L535.2 544.7" stroke="#009E73" stroke-width="3.1" fill="none"/>
<path d="M550.6 540.9L559.8 550.1M559.8 540.9L550.6 550.1" stroke="#009E73" stroke-width="3.1" fill="none"/>
<path d="M592.6 585.1L601.8 594.3M601.8 585.1L592.6 594.3" stroke="#009E73" stroke-width="3.1" fill="none"/>
<circle cx="329.4" cy="704.7" r="4.6" fill="#F0E442" stroke="#111" stroke-width="1.45"/>
<circle cx="345.6" cy="695.3" r="4.6" fill="#F0E442" stroke="#111" stroke-width="1.45"/>
<circle cx="356.5" cy="695.3" r="4.6" fill="#F0E442" stroke="#111" stroke-width="1.45"/>
<circle cx="374.2" cy="713.9" r="4.6" fill="#F0E442" stroke="#111" stroke-width="1.45"/>
<circle cx="367.5" cy="736.5" r="4.6" fill="#F0E442" stroke="#111" stroke-width="1.45"/>
<circle cx="385.1" cy="735.3" r="4.6" fill="#F0E442" stroke="#111" stroke-width="1.45"/>
<circle cx="326.6" cy="776.2" r="4.6" fill="#F0E442" stroke="#111" stroke-width="1.45"/>
<circle cx="375.6" cy="690.0" r="4.6" fill="#F0E442" stroke="#111" stroke-width="1.45"/>
<circle cx="389.1" cy="690.0" r="4.6" fill="#F0E442" stroke="#111" stroke-width="1.45"/>
<circle cx="402.0" cy="693.6" r="4.6" fill="#F0E442" stroke="#111" stroke-width="1.45"/>
<circle cx="405.3" cy="693.4" r="4.6" fill="#F0E442" stroke="#111" stroke-width="1.45"/>
<circle cx="443.5" cy="692.3" r="4.6" fill="#F0E442" stroke="#111" stroke-width="1.45"/>
<circle cx="394.6" cy="703.2" r="4.6" fill="#F0E442" stroke="#111" stroke-width="1.45"/>
<circle cx="405.4" cy="701.7" r="4.6" fill="#F0E442" stroke="#111" stroke-width="1.45"/>
<circle cx="409.7" cy="710.1" r="4.6" fill="#F0E442" stroke="#111" stroke-width="1.45"/>
<circle cx="412.2" cy="711.4" r="4.6" fill="#F0E442" stroke="#111" stroke-width="1.45"/>
<circle cx="453.1" cy="741.0" r="4.6" fill="#F0E442" stroke="#111" stroke-width="1.45"/>
<circle cx="394.6" cy="752.9" r="4.6" fill="#F0E442" stroke="#111" stroke-width="1.45"/>
<circle cx="427.9" cy="761.7" r="4.6" fill="#F0E442" stroke="#111" stroke-width="1.45"/>
<circle cx="426.0" cy="759.9" r="4.6" fill="#F0E442" stroke="#111" stroke-width="1.45"/>
<circle cx="469.4" cy="631.6" r="4.6" fill="#F0E442" stroke="#111" stroke-width="1.45"/>
<circle cx="420.5" cy="646.4" r="4.6" fill="#F0E442" stroke="#111" stroke-width="1.45"/>
<circle cx="406.9" cy="654.6" r="4.6" fill="#F0E442" stroke="#111" stroke-width="1.45"/>
<circle cx="435.5" cy="648.9" r="4.6" fill="#F0E442" stroke="#111" stroke-width="1.45"/>
<circle cx="439.5" cy="657.5" r="4.6" fill="#F0E442" stroke="#111" stroke-width="1.45"/>
<circle cx="446.3" cy="666.0" r="4.6" fill="#F0E442" stroke="#111" stroke-width="1.45"/>
<circle cx="441.0" cy="673.4" r="4.6" fill="#F0E442" stroke="#111" stroke-width="1.45"/>
<circle cx="468.0" cy="657.5" r="4.6" fill="#F0E442" stroke="#111" stroke-width="1.45"/>
<circle cx="469.4" cy="672.2" r="4.6" fill="#F0E442" stroke="#111" stroke-width="1.45"/>
<circle cx="376.9" cy="680.2" r="4.6" fill="#F0E442" stroke="#111" stroke-width="1.45"/>
<circle cx="402.8" cy="682.8" r="4.6" fill="#F0E442" stroke="#111" stroke-width="1.45"/>
<circle cx="416.4" cy="684.2" r="4.6" fill="#F0E442" stroke="#111" stroke-width="1.45"/>
<circle cx="492.5" cy="646.3" r="4.6" fill="#F0E442" stroke="#111" stroke-width="1.45"/>
<circle cx="205.4" cy="757.3" r="4.0" fill="none" stroke="#0072B2" stroke-width="1.55"/>
<circle cx="182.8" cy="771.7" r="4.0" fill="none" stroke="#0072B2" stroke-width="1.55"/>
<circle cx="163.3" cy="791.3" r="4.0" fill="none" stroke="#0072B2" stroke-width="1.55"/>
<circle cx="286.0" cy="751.9" r="4.0" fill="none" stroke="#0072B2" stroke-width="1.55"/>
<circle cx="349.9" cy="755.8" r="4.0" fill="none" stroke="#0072B2" stroke-width="1.55"/>
<circle cx="367.3" cy="723.4" r="4.0" fill="none" stroke="#0072B2" stroke-width="1.55"/>
<circle cx="375.4" cy="761.1" r="4.0" fill="none" stroke="#0072B2" stroke-width="1.55"/>
<circle cx="374.2" cy="766.8" r="4.0" fill="none" stroke="#0072B2" stroke-width="1.55"/>
<circle cx="359.3" cy="768.0" r="4.0" fill="none" stroke="#0072B2" stroke-width="1.55"/>
<circle cx="302.1" cy="786.9" r="4.0" fill="none" stroke="#0072B2" stroke-width="1.55"/>
<circle cx="324.1" cy="785.7" r="4.0" fill="none" stroke="#0072B2" stroke-width="1.55"/>
<circle cx="348.4" cy="782.9" r="4.0" fill="none" stroke="#0072B2" stroke-width="1.55"/>
<circle cx="366.3" cy="782.9" r="4.0" fill="none" stroke="#0072B2" stroke-width="1.55"/>
<circle cx="329.4" cy="803.0" r="4.0" fill="none" stroke="#0072B2" stroke-width="1.55"/>
<circle cx="349.9" cy="798.9" r="4.0" fill="none" stroke="#0072B2" stroke-width="1.55"/>
<circle cx="389.2" cy="711.4" r="4.0" fill="none" stroke="#0072B2" stroke-width="1.55"/>
<circle cx="388.0" cy="720.8" r="4.0" fill="none" stroke="#0072B2" stroke-width="1.55"/>
<circle cx="431.1" cy="708.6" r="4.0" fill="none" stroke="#0072B2" stroke-width="1.55"/>
<circle cx="442.4" cy="705.7" r="4.0" fill="none" stroke="#0072B2" stroke-width="1.55"/>
<circle cx="439.3" cy="711.6" r="4.0" fill="none" stroke="#0072B2" stroke-width="1.55"/>
<circle cx="461.3" cy="719.3" r="4.0" fill="none" stroke="#0072B2" stroke-width="1.55"/>
<circle cx="420.4" cy="729.0" r="4.0" fill="none" stroke="#0072B2" stroke-width="1.55"/>
<circle cx="436.7" cy="731.5" r="4.0" fill="none" stroke="#0072B2" stroke-width="1.55"/>
<circle cx="405.5" cy="738.5" r="4.0" fill="none" stroke="#0072B2" stroke-width="1.55"/>
<circle cx="390.8" cy="742.2" r="4.0" fill="none" stroke="#0072B2" stroke-width="1.55"/>
<circle cx="395.8" cy="752.9" r="4.0" fill="none" stroke="#0072B2" stroke-width="1.55"/>
<circle cx="390.8" cy="761.5" r="4.0" fill="none" stroke="#0072B2" stroke-width="1.55"/>
<circle cx="412.2" cy="764.0" r="4.0" fill="none" stroke="#0072B2" stroke-width="1.55"/>
<circle cx="394.6" cy="783.1" r="4.0" fill="none" stroke="#0072B2" stroke-width="1.55"/>
<circle cx="438.0" cy="799.2" r="4.0" fill="none" stroke="#0072B2" stroke-width="1.55"/>
<circle cx="446.3" cy="666.0" r="4.0" fill="none" stroke="#0072B2" stroke-width="1.55"/>
<path d="M225.2 712.6H237.2M231.2 706.6V718.6" stroke="#CC79A7" stroke-width="3.5" fill="none"/>
<path d="M227.1 714.1H239.1M233.1 708.1V720.1" stroke="#CC79A7" stroke-width="3.5" fill="none"/>
<path d="M236.5 734.2H248.5M242.5 728.2V740.2" stroke="#CC79A7" stroke-width="3.5" fill="none"/>
<path d="M201.0 729.2H213.0M207.0 723.2V735.2" stroke="#CC79A7" stroke-width="3.5" fill="none"/>
<path d="M203.1 730.4H215.1M209.1 724.4V736.4" stroke="#CC79A7" stroke-width="3.5" fill="none"/>
<path d="M183.8 738.0H195.8M189.8 732.0V744.0" stroke="#CC79A7" stroke-width="3.5" fill="none"/>
<path d="M184.3 745.2H196.3M190.3 739.2V751.2" stroke="#CC79A7" stroke-width="3.5" fill="none"/>
<path d="M186.0 747.5H198.0M192.0 741.5V753.5" stroke="#CC79A7" stroke-width="3.5" fill="none"/>
<path d="M201.0 747.7H213.0M207.0 741.7V753.7" stroke="#CC79A7" stroke-width="3.5" fill="none"/>
<path d="M208.5 754.5H220.5M214.5 748.5V760.5" stroke="#CC79A7" stroke-width="3.5" fill="none"/>
<path d="M212.5 756.5H224.5M218.5 750.5V762.5" stroke="#CC79A7" stroke-width="3.5" fill="none"/>
<path d="M195.2 767.0H207.2M201.2 761.0V773.0" stroke="#CC79A7" stroke-width="3.5" fill="none"/>
<path d="M187.6 756.9H199.6M193.6 750.9V762.9" stroke="#CC79A7" stroke-width="3.5" fill="none"/>
<path d="M169.2 758.6H181.2M175.2 752.6V764.6" stroke="#CC79A7" stroke-width="3.5" fill="none"/>
<path d="M173.4 759.4H185.4M179.4 753.4V765.4" stroke="#CC79A7" stroke-width="3.5" fill="none"/>
<path d="M166.2 753.5H178.2M172.2 747.5V759.5" stroke="#CC79A7" stroke-width="3.5" fill="none"/>
<path d="M171.7 761.9H183.7M177.7 755.9V767.9" stroke="#CC79A7" stroke-width="3.5" fill="none"/>
<path d="M157.4 765.3H169.4M163.4 759.3V771.3" stroke="#CC79A7" stroke-width="3.5" fill="none"/>
<path d="M158.3 774.5H170.3M164.3 768.5V780.5" stroke="#CC79A7" stroke-width="3.5" fill="none"/>
<path d="M160.8 770.3H172.8M166.8 764.3V776.3" stroke="#CC79A7" stroke-width="3.5" fill="none"/>
<path d="M177.5 774.5H189.5M183.5 768.5V780.5" stroke="#CC79A7" stroke-width="3.5" fill="none"/>
<path d="M177.5 782.0H189.5M183.5 776.0V788.0" stroke="#CC79A7" stroke-width="3.5" fill="none"/>
<path d="M154.9 782.5H166.9M160.9 776.5V788.5" stroke="#CC79A7" stroke-width="3.5" fill="none"/>
<path d="M159.9 786.2H171.9M165.9 780.2V792.2" stroke="#CC79A7" stroke-width="3.5" fill="none"/>
<path d="M169.2 788.8H181.2M175.2 782.8V794.8" stroke="#CC79A7" stroke-width="3.5" fill="none"/>
<path d="M178.4 789.6H190.4M184.4 783.6V795.6" stroke="#CC79A7" stroke-width="3.5" fill="none"/>
<path d="M161.7 807.2H173.7M167.7 801.2V813.2" stroke="#CC79A7" stroke-width="3.5" fill="none"/>
<path d="M877.1 509.7L884.7 517.3L877.1 524.9L869.5 517.3Z" fill="#000"/>
<text x="895.5" y="528.3" font-family="Liberation Sans" font-size="31.5" font-weight="normal" font-style="normal" text-anchor="start" fill="#000" >DC</text>
<rect x="869.9" y="555.5" width="13" height="13" fill="#E69F00" stroke="#3a2a10" stroke-width="0.9"/>
<text x="895.5" y="572.6" font-family="Liberation Sans" font-size="31.5" font-weight="normal" font-style="normal" text-anchor="start" fill="#000" >MH</text>
<text x="850" y="621.7" font-family="Liberation Sans" font-size="24" font-weight="normal" font-style="normal" text-anchor="start" fill="#000" >Han River</text>
<rect x="856.0" y="633.6" width="95.4" height="226.4" fill="#D0D0D0"/>
<path d="M876.7 654.1L882.5 664.6L871.0 664.6Z" fill="#56B4E9" stroke="#1a1a1a" stroke-width="0.9" stroke-linejoin="miter"/>
<text x="895.5" y="669.6" font-family="Liberation Sans" font-size="31.5" font-weight="normal" font-style="normal" text-anchor="start" fill="#000" >JJ</text>
<path d="M871.7 697.9L884.3 710.5M884.3 697.9L871.7 710.5" stroke="#009E73" stroke-width="3.3" fill="none"/>
<text x="895.5" y="714" font-family="Liberation Sans" font-size="31.5" font-weight="normal" font-style="normal" text-anchor="start" fill="#000" >HC</text>
<circle cx="875.4" cy="746.3" r="6.2" fill="#F0E442" stroke="#111" stroke-width="1.45"/>
<text x="895.5" y="756.4" font-family="Liberation Sans" font-size="31.5" font-weight="normal" font-style="normal" text-anchor="start" fill="#000" >GD</text>
<circle cx="876.5" cy="791.8" r="5.2" fill="none" stroke="#0072B2" stroke-width="1.5"/>
<text x="895.5" y="802.2" font-family="Liberation Sans" font-size="31.5" font-weight="normal" font-style="normal" text-anchor="start" fill="#000" >SG</text>
<path d="M870.2 838.2H885.4M877.8 830.6V845.8" stroke="#CC79A7" stroke-width="3.3" fill="none"/>
<text x="895.5" y="847.7" font-family="Liberation Sans" font-size="31.5" font-weight="normal" font-style="normal" text-anchor="start" fill="#000" >JC</text>
</svg></body></html>
